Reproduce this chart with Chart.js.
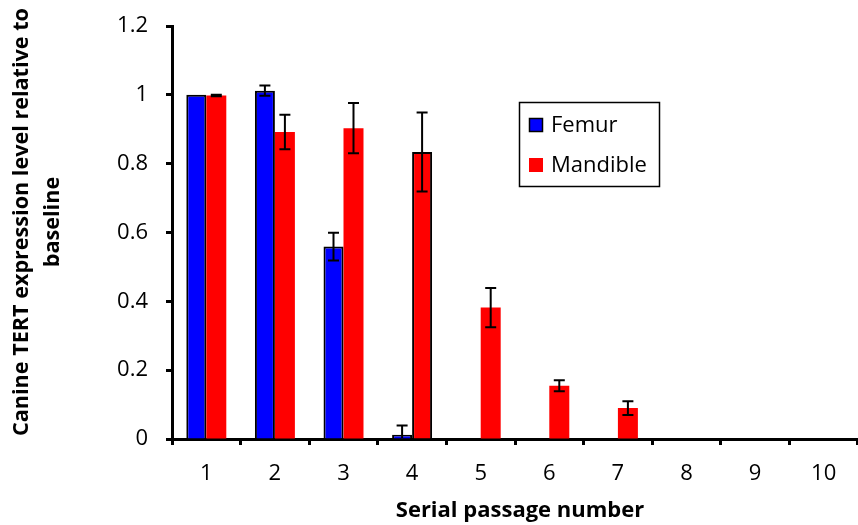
<!DOCTYPE html>
<html>
<head>
<meta charset="utf-8">
<script src="https://cdn.jsdelivr.net/npm/chart.js@4"></script>
<style>
html,body{margin:0;padding:0;background:#fff;}
canvas{display:block;}
</style>
</head>
<body>
<canvas id="c" width="858" height="525"></canvas>
<script>
const categories = ['1','2','3','4','5','6','7','8','9','10'];
const femur = [1.0, 1.012, 0.559, 0.0125, 0, 0, 0, 0, 0, 0];
const femurErr = [0, 0.015, 0.04, 0.027, 0, 0, 0, 0, 0, 0];
const mandible = [0.998, 0.892, 0.903, 0.834, 0.382, 0.155, 0.090, 0, 0, 0];
const mandibleErr = [0.002, 0.05, 0.073, 0.115, 0.057, 0.016, 0.02, 0, 0, 0];
const yTitle = ['Canine TERT expression level relative to', 'baseline'];
const xTitle = 'Serial passage number';

const errorBars = {
  id: 'errorBars',
  afterDatasetsDraw(chart) {
    const ctx = chart.ctx;
    const y = chart.scales.y;
    const a = chart.chartArea;
    const errs = [femurErr, mandibleErr];
    ctx.save();
    ctx.beginPath();
    ctx.rect(a.left, 0, a.right - a.left, a.bottom - 1);
    ctx.clip();
    ctx.strokeStyle = '#000';
    ctx.lineWidth = 2;
    chart.data.datasets.forEach((ds, di) => {
      const meta = chart.getDatasetMeta(di);
      meta.data.forEach((bar, i) => {
        const e = errs[di][i];
        if (!e) return;
        const v = ds.data[i];
        const x = bar.x;
        const yt = y.getPixelForValue(v + e);
        const yb = y.getPixelForValue(v - e);
        ctx.beginPath();
        ctx.moveTo(x, yt); ctx.lineTo(x, yb);
        ctx.moveTo(x - 5.5, yt); ctx.lineTo(x + 5.5, yt);
        ctx.moveTo(x - 5.5, yb); ctx.lineTo(x + 5.5, yb);
        ctx.stroke();
      });
    });
    ctx.restore();
  }
};

const decorations = {
  id: 'decorations',
  afterDraw(chart) {
    const ctx = chart.ctx;
    ctx.save();
    // legend
    ctx.strokeStyle = '#000';
    ctx.lineWidth = 1.5;
    ctx.strokeRect(519.5, 102.5, 140, 84);
    const items = chart.data.datasets;
    const ys = [125, 165];
    items.forEach((ds, i) => {
      ctx.fillStyle = ds.backgroundColor;
      ctx.fillRect(529, ys[i] - 7, 14, 14);
      if (i === 0) { ctx.lineWidth = 1.5; ctx.strokeRect(529.5, ys[i] - 6.5, 13, 13); }
      ctx.fillStyle = '#000';
      ctx.font = '22px "Open Sans"';
      ctx.textBaseline = 'middle';
      ctx.textAlign = 'left';
      ctx.fillText(ds.label, 551, ys[i] + 1);
    });
    // axis titles
    ctx.fillStyle = '#000';
    ctx.font = 'bold 22px "Open Sans"';
    ctx.textAlign = 'center';
    ctx.textBaseline = 'middle';
    ctx.fillText(xTitle, 520, 511);
    ctx.font = 'bold 21.6px "Open Sans"';
    const cx = [22, 53];
    yTitle.forEach((t, i) => {
      ctx.save();
      ctx.translate(cx[i], 222);
      ctx.rotate(-Math.PI / 2);
      ctx.fillText(t, 0, 0);
      ctx.restore();
    });
    ctx.restore();
  }
};

new Chart(document.getElementById('c'), {
  type: 'bar',
  data: {
    labels: categories,
    datasets: [
      { label: 'Femur', data: femur, backgroundColor: '#0000FF', borderColor: '#000', borderWidth: 2, borderSkipped: 'bottom' },
      { label: 'Mandible', data: mandible, backgroundColor: '#FF0000', borderColor: '#000',
        borderWidth: [0, 0, 0, 2, 0, 0, 0, 0, 0, 0], borderSkipped: 'bottom' }
    ]
  },
  options: {
    responsive: false,
    animation: false,
    devicePixelRatio: 1,
    layout: { padding: { top: 26, right: 0, left: 0, bottom: 0 } },
    categoryPercentage: 0.583,
    barPercentage: 1.0,
    plugins: { legend: { display: false }, tooltip: { enabled: false } },
    scales: {
      x: {
        offset: true,
        grid: { offset: true, drawOnChartArea: false, drawTicks: true, tickLength: 6, tickWidth: 3, tickColor: '#000' },
        border: { display: true, width: 3, color: '#000' },
        ticks: { color: '#000', font: { family: 'Open Sans', size: 22 }, padding: 16, maxRotation: 0 },
        afterFit(s) { s.height = 86; s.paddingLeft = 0; s.paddingRight = 0; }
      },
      y: {
        min: 0, max: 1.2,
        grid: { drawOnChartArea: false, drawTicks: true, tickLength: 6, tickWidth: 3, tickColor: '#000' },
        border: { display: true, width: 3, color: '#000' },
        ticks: { stepSize: 0.2, color: '#000', font: { family: 'Open Sans', size: 22 }, padding: 18,
                 callback: v => String(parseFloat(Number(v).toFixed(1))) },
        afterFit(s) { s.width = 172; s.paddingTop = 0; s.paddingBottom = 0; }
      }
    }
  },
  plugins: [errorBars, decorations]
});
</script>
</body>
</html>
